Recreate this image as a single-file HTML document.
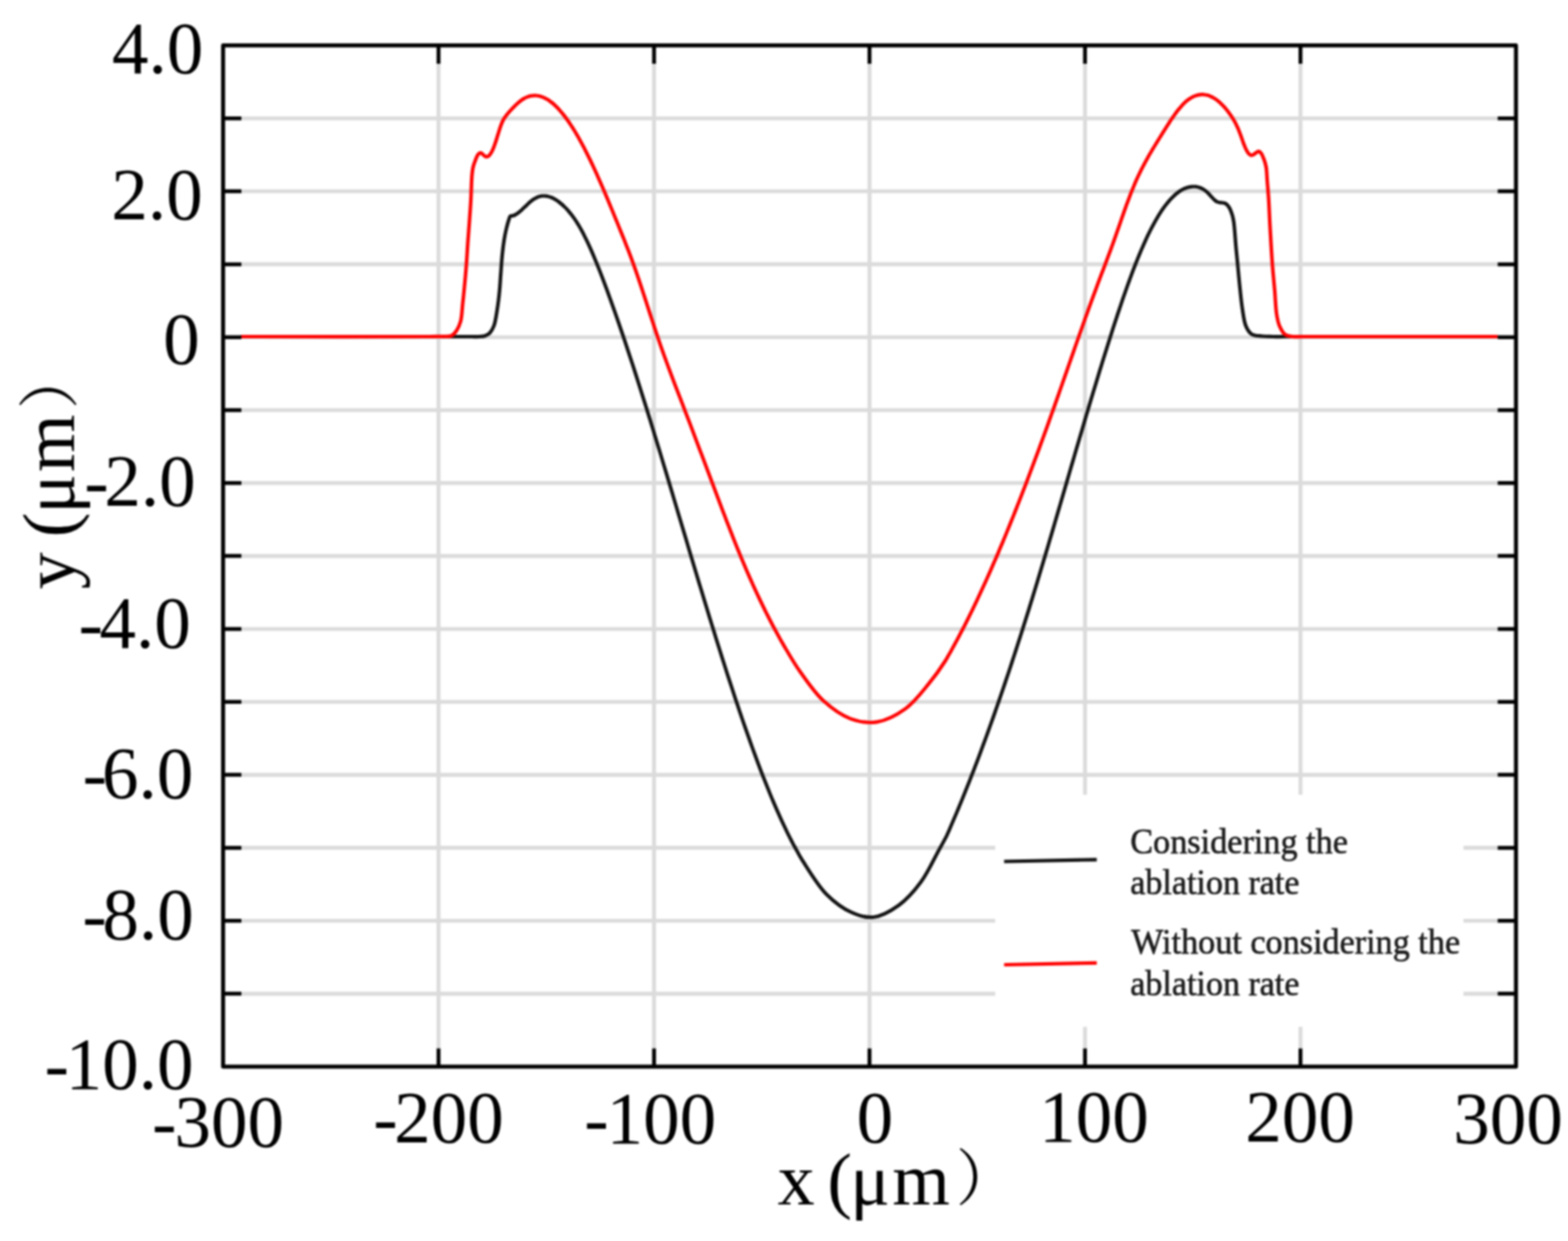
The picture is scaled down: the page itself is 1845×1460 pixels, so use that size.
<!DOCTYPE html>
<html><head><meta charset="utf-8"><title>Ablation profile chart</title>
<style>
html,body{margin:0;padding:0;background:#fff;}
body{width:1845px;height:1460px;overflow:hidden;}
svg{display:block;filter:blur(1px);}
.t{font-family:"Liberation Serif","Noto Serif CJK SC",serif;fill:#000;}
.lg{font-family:"Liberation Serif",serif;fill:#1a1a1a;stroke:#1a1a1a;stroke-width:0.7px;}
.cj{font-family:"Noto Serif CJK SC",serif;fill:#000;}
</style></head><body>
<svg width="1845" height="1460" viewBox="0 0 1845 1460">
<rect width="1845" height="1460" fill="#fff"/>
<g stroke="#dbdbdb" stroke-width="4.6"><line x1="516.0" y1="53.4" x2="516.0" y2="1254.9"/><line x1="769.6" y1="53.4" x2="769.6" y2="1254.9"/><line x1="1023.1" y1="53.4" x2="1023.1" y2="1254.9"/><line x1="1276.7" y1="53.4" x2="1276.7" y2="1254.9"/><line x1="1530.2" y1="53.4" x2="1530.2" y2="1254.9"/><line x1="262.5" y1="139.2" x2="1783.8" y2="139.2"/><line x1="262.5" y1="225.0" x2="1783.8" y2="225.0"/><line x1="262.5" y1="310.9" x2="1783.8" y2="310.9"/><line x1="262.5" y1="396.7" x2="1783.8" y2="396.7"/><line x1="262.5" y1="482.5" x2="1783.8" y2="482.5"/><line x1="262.5" y1="568.3" x2="1783.8" y2="568.3"/><line x1="262.5" y1="654.1" x2="1783.8" y2="654.1"/><line x1="262.5" y1="740.0" x2="1783.8" y2="740.0"/><line x1="262.5" y1="825.8" x2="1783.8" y2="825.8"/><line x1="262.5" y1="911.6" x2="1783.8" y2="911.6"/><line x1="262.5" y1="997.4" x2="1783.8" y2="997.4"/><line x1="262.5" y1="1083.3" x2="1783.8" y2="1083.3"/><line x1="262.5" y1="1169.1" x2="1783.8" y2="1169.1"/></g>
<rect x="1171" y="935" width="551" height="273" fill="#fff"/>
<path fill="none" stroke="#111" stroke-width="4.2" stroke-linejoin="round" d="M283.6,396.0C289.1,396.0 291.3,396.0 300.0,396.0C333.2,396.0 508.0,396.0 540.0,396.0C548.0,396.0 550.6,396.0 555.0,396.0C558.4,396.0 561.2,396.2 564.0,396.0C566.5,395.8 568.8,395.8 570.9,395.0C573.0,394.2 574.9,393.2 576.5,391.5C578.4,389.5 579.8,386.9 581.1,383.6C583.0,378.7 583.9,371.1 585.0,364.4C586.2,357.2 587.1,349.3 587.8,341.8C588.5,334.5 588.8,327.2 589.4,320.0C589.9,312.9 590.4,305.3 591.1,298.7C591.7,292.8 592.4,287.3 593.2,282.2C593.9,277.8 594.7,273.8 595.6,269.9C596.5,266.2 597.5,262.1 598.5,259.2C599.2,257.2 599.5,255.1 600.6,254.3C601.4,253.7 602.6,254.1 603.6,253.8C604.6,253.5 605.6,253.0 606.6,252.5C607.6,251.9 608.6,251.2 609.6,250.5C610.6,249.8 611.6,248.9 612.6,248.1C613.6,247.2 614.6,246.2 615.6,245.3C616.6,244.3 617.6,243.4 618.6,242.4C619.6,241.4 620.6,240.4 621.6,239.5C622.6,238.6 623.6,237.7 624.6,236.8C625.6,236.0 626.6,235.2 627.6,234.5C628.6,233.9 629.6,233.3 630.6,232.8C631.6,232.3 632.6,231.8 633.6,231.5C634.6,231.2 635.6,230.9 636.6,230.7C637.6,230.6 638.6,230.5 639.6,230.5C640.6,230.5 641.6,230.5 642.6,230.6C643.6,230.8 644.6,231.0 645.6,231.3C646.6,231.5 647.6,231.9 648.6,232.3C649.6,232.7 650.6,233.2 651.6,233.7C652.6,234.2 653.6,234.8 654.6,235.4C655.6,236.1 656.6,236.8 657.6,237.5C658.6,238.3 659.6,239.1 660.6,240.0C661.6,240.8 662.6,241.7 663.6,242.7C664.6,243.6 665.6,244.6 666.6,245.7C667.6,246.8 668.6,247.9 669.6,249.1C670.6,250.3 671.6,251.5 672.6,252.8C673.6,254.1 674.6,255.5 675.6,256.9C676.6,258.3 677.6,259.8 678.6,261.4C679.6,263.0 680.6,264.6 681.6,266.3C682.6,268.0 683.6,269.8 684.6,271.6C685.6,273.5 686.6,275.4 687.6,277.4C688.6,279.3 689.6,281.4 690.6,283.4C691.6,285.6 692.6,287.7 693.6,289.9C694.6,292.1 695.6,294.3 696.6,296.6C697.6,298.9 698.6,301.3 699.6,303.7C700.6,306.1 701.6,308.5 702.6,311.0C703.6,313.5 704.6,316.0 705.6,318.5C706.6,321.1 707.6,323.7 708.6,326.3C709.6,328.9 710.6,331.6 711.6,334.2C712.6,336.9 713.6,339.6 714.6,342.3C715.6,345.1 716.6,347.8 717.6,350.6C718.6,353.4 719.6,356.2 720.6,359.0C721.6,361.8 722.6,364.6 723.6,367.4C724.6,370.3 725.6,373.2 726.6,376.0C727.6,378.9 728.6,381.8 729.6,384.7C730.6,387.7 731.6,390.6 732.6,393.5C733.6,396.5 734.6,399.5 735.6,402.4C736.6,405.4 737.6,408.4 738.6,411.5C739.6,414.5 740.6,417.5 741.6,420.6C742.6,423.6 743.6,426.7 744.6,429.7C745.6,432.8 746.6,435.9 747.6,439.0C748.6,442.1 749.6,445.2 750.6,448.4C751.6,451.5 752.6,454.7 753.6,457.8C754.6,461.0 755.6,464.1 756.6,467.3C757.6,470.5 758.6,473.7 759.6,476.9C760.6,480.1 761.6,483.3 762.6,486.5C763.6,489.8 764.6,493.0 765.6,496.2C766.6,499.5 767.6,502.7 768.6,506.0C769.6,509.2 770.6,512.5 771.6,515.8C772.6,519.1 773.6,522.4 774.6,525.6C775.6,528.9 776.6,532.2 777.6,535.5C778.6,538.8 779.6,542.1 780.6,545.5C781.6,548.8 782.6,552.1 783.6,555.4C784.6,558.7 785.6,562.1 786.6,565.4C787.6,568.7 788.6,572.1 789.6,575.4C790.6,578.8 791.6,582.1 792.6,585.5C793.6,588.8 794.6,592.1 795.6,595.5C796.6,598.8 797.6,602.2 798.6,605.6C799.6,608.9 800.6,612.3 801.6,615.6C802.6,619.0 803.6,622.3 804.6,625.7C805.6,629.0 806.6,632.4 807.6,635.7C808.6,639.1 809.6,642.4 810.6,645.8C811.6,649.1 812.6,652.5 813.6,655.8C814.6,659.1 815.6,662.5 816.6,665.8C817.6,669.1 818.6,672.5 819.6,675.8C820.6,679.1 821.6,682.4 822.6,685.8C823.6,689.1 824.6,692.4 825.6,695.7C826.6,699.0 827.6,702.3 828.6,705.6C829.6,708.9 830.6,712.2 831.6,715.4C832.6,718.7 833.6,722.0 834.6,725.3C835.6,728.5 836.6,731.8 837.6,735.0C838.6,738.3 839.6,741.5 840.6,744.7C841.6,747.9 842.6,751.2 843.6,754.4C844.6,757.6 845.6,760.8 846.6,763.9C847.6,767.1 848.6,770.3 849.6,773.5C850.6,776.6 851.6,779.8 852.6,782.9C853.6,786.0 854.6,789.1 855.6,792.3C856.6,795.4 857.6,798.5 858.6,801.5C859.6,804.6 860.6,807.7 861.6,810.7C862.6,813.8 863.6,816.8 864.6,819.8C865.6,822.9 866.6,825.9 867.6,828.8C868.6,831.8 869.6,834.8 870.6,837.8C871.6,840.7 872.6,843.6 873.6,846.6C874.6,849.5 875.6,852.4 876.6,855.2C877.6,858.1 878.6,861.0 879.6,863.8C880.6,866.7 881.6,869.5 882.6,872.3C883.6,875.1 884.6,877.9 885.6,880.6C886.6,883.4 887.6,886.1 888.6,888.8C889.6,891.5 890.6,894.2 891.6,896.9C892.6,899.6 893.6,902.2 894.6,904.9C895.6,907.5 896.6,910.1 897.6,912.7C898.6,915.2 899.6,917.8 900.6,920.3C901.6,922.8 902.6,925.3 903.6,927.8C904.6,930.3 905.6,932.7 906.6,935.2C907.6,937.6 908.6,940.0 909.6,942.3C910.6,944.7 911.6,947.0 912.6,949.4C913.6,951.7 914.6,954.0 915.6,956.2C916.6,958.5 917.6,960.7 918.6,962.9C919.6,965.1 920.6,967.3 921.6,969.4C922.6,971.5 923.6,973.6 924.6,975.7C925.6,977.8 926.6,979.8 927.6,981.9C928.6,983.9 929.6,985.8 930.6,987.8C931.6,989.7 932.6,991.7 933.6,993.6C934.6,995.4 935.6,997.3 936.6,999.1C937.6,1000.9 938.6,1002.7 939.6,1004.4C940.6,1006.2 941.6,1008.0 942.6,1009.6C943.4,1011.0 943.7,1011.6 945.0,1013.5C949.1,1019.8 962.3,1041.9 972.6,1052.2C981.6,1061.2 992.1,1069.0 1002.0,1073.4C1010.4,1077.2 1018.9,1080.0 1027.6,1079.0C1037.3,1077.9 1048.2,1071.7 1057.3,1065.2C1067.1,1058.2 1076.0,1048.0 1083.7,1037.5C1091.9,1026.4 1099.1,1010.3 1104.7,1000.2C1108.5,993.4 1111.8,987.5 1114.0,983.1C1115.3,980.3 1116.0,978.5 1117.0,976.3C1118.0,974.0 1119.0,971.7 1120.0,969.3C1121.0,967.0 1122.0,964.7 1123.0,962.3C1124.0,960.0 1125.0,957.6 1126.0,955.2C1127.0,952.8 1128.0,950.4 1129.0,948.0C1130.0,945.6 1131.0,943.2 1132.0,940.7C1133.0,938.3 1134.0,935.8 1135.0,933.3C1136.0,930.8 1137.0,928.3 1138.0,925.8C1139.0,923.3 1140.0,920.8 1141.0,918.2C1142.0,915.7 1143.0,913.1 1144.0,910.5C1145.0,907.9 1146.0,905.4 1147.0,902.8C1148.0,900.1 1149.0,897.5 1150.0,894.9C1151.0,892.2 1152.0,889.6 1153.0,886.9C1154.0,884.2 1155.0,881.5 1156.0,878.8C1157.0,876.1 1158.0,873.4 1159.0,870.7C1160.0,868.0 1161.0,865.2 1162.0,862.5C1163.0,859.7 1164.0,856.9 1165.0,854.1C1166.0,851.3 1167.0,848.5 1168.0,845.7C1169.0,842.9 1170.0,840.0 1171.0,837.2C1172.0,834.3 1173.0,831.5 1174.0,828.6C1175.0,825.7 1176.0,822.8 1177.0,819.9C1178.0,817.0 1179.0,814.1 1180.0,811.1C1181.0,808.2 1182.0,805.2 1183.0,802.3C1184.0,799.3 1185.0,796.3 1186.0,793.3C1187.0,790.3 1188.0,787.3 1189.0,784.3C1190.0,781.3 1191.0,778.2 1192.0,775.2C1193.0,772.1 1194.0,769.1 1195.0,766.0C1196.0,762.9 1197.0,759.8 1198.0,756.7C1199.0,753.6 1200.0,750.5 1201.0,747.4C1202.0,744.2 1203.0,741.1 1204.0,737.9C1205.0,734.8 1206.0,731.6 1207.0,728.4C1208.0,725.2 1209.0,722.0 1210.0,718.8C1211.0,715.6 1212.0,712.4 1213.0,709.2C1214.0,705.9 1215.0,702.7 1216.0,699.4C1217.0,696.1 1218.0,692.9 1219.0,689.6C1220.0,686.3 1221.0,683.0 1222.0,679.7C1223.0,676.4 1224.0,673.0 1225.0,669.7C1226.0,666.4 1227.0,663.0 1228.0,659.7C1229.0,656.3 1230.0,653.0 1231.0,649.6C1232.0,646.2 1233.0,642.9 1234.0,639.5C1235.0,636.1 1236.0,632.7 1237.0,629.3C1238.0,625.9 1239.0,622.5 1240.0,619.1C1241.0,615.7 1242.0,612.3 1243.0,608.9C1244.0,605.5 1245.0,602.1 1246.0,598.6C1247.0,595.2 1248.0,591.8 1249.0,588.4C1250.0,584.9 1251.0,581.5 1252.0,578.1C1253.0,574.7 1254.0,571.2 1255.0,567.8C1256.0,564.4 1257.0,560.9 1258.0,557.5C1259.0,554.1 1260.0,550.7 1261.0,547.2C1262.0,543.8 1263.0,540.4 1264.0,537.0C1265.0,533.5 1266.0,530.1 1267.0,526.7C1268.0,523.3 1269.0,519.9 1270.0,516.5C1271.0,513.1 1272.0,509.7 1273.0,506.3C1274.0,502.9 1275.0,499.5 1276.0,496.1C1277.0,492.8 1278.0,489.4 1279.0,486.0C1280.0,482.6 1281.0,479.3 1282.0,475.9C1283.0,472.6 1284.0,469.3 1285.0,465.9C1286.0,462.6 1287.0,459.3 1288.0,456.0C1289.0,452.7 1290.0,449.4 1291.0,446.1C1292.0,442.8 1293.0,439.5 1294.0,436.2C1295.0,433.0 1296.0,429.7 1297.0,426.5C1298.0,423.3 1299.0,420.1 1300.0,416.8C1301.0,413.6 1302.0,410.5 1303.0,407.3C1304.0,404.1 1305.0,400.9 1306.0,397.8C1307.0,394.7 1308.0,391.5 1309.0,388.4C1310.0,385.3 1311.0,382.2 1312.0,379.2C1313.0,376.1 1314.0,373.1 1315.0,370.0C1316.0,367.0 1317.0,364.0 1318.0,361.1C1319.0,358.1 1320.0,355.2 1321.0,352.2C1322.0,349.3 1323.0,346.4 1324.0,343.6C1325.0,340.7 1326.0,337.9 1327.0,335.1C1328.0,332.4 1329.0,329.6 1330.0,326.9C1331.0,324.2 1332.0,321.5 1333.0,318.8C1334.0,316.2 1335.0,313.6 1336.0,311.1C1337.0,308.5 1338.0,306.0 1339.0,303.5C1340.0,301.1 1341.0,298.6 1342.0,296.2C1343.0,293.9 1344.0,291.6 1345.0,289.3C1346.0,287.0 1347.0,284.8 1348.0,282.6C1349.0,280.4 1350.0,278.3 1351.0,276.2C1352.0,274.1 1353.0,272.1 1354.0,270.1C1355.0,268.2 1356.0,266.3 1357.0,264.4C1358.0,262.6 1359.0,260.8 1360.0,259.0C1361.0,257.3 1362.0,255.6 1363.0,253.9C1364.0,252.3 1365.0,250.7 1366.0,249.2C1367.0,247.7 1368.0,246.2 1369.0,244.8C1370.0,243.4 1371.0,242.1 1372.0,240.8C1373.0,239.5 1374.0,238.3 1375.0,237.1C1376.0,235.9 1377.0,234.8 1378.0,233.7C1379.0,232.7 1380.0,231.7 1381.0,230.7C1382.0,229.8 1383.0,228.9 1384.0,228.0C1385.0,227.2 1386.0,226.4 1387.0,225.7C1388.0,225.0 1389.0,224.4 1390.0,223.8C1391.0,223.2 1392.0,222.7 1393.0,222.2C1394.0,221.7 1395.0,221.3 1396.0,221.0C1397.0,220.6 1398.0,220.3 1399.0,220.1C1400.0,219.9 1401.0,219.7 1402.0,219.6C1403.0,219.5 1404.0,219.5 1405.0,219.5C1406.0,219.5 1407.0,219.6 1408.0,219.7C1409.0,219.9 1410.0,220.1 1411.0,220.4C1412.0,220.7 1413.0,221.1 1414.0,221.6C1415.0,222.1 1416.0,222.7 1417.0,223.4C1418.0,224.1 1419.0,224.9 1420.0,225.8C1421.0,226.7 1422.0,227.8 1423.0,228.8C1424.0,229.9 1425.0,231.0 1426.0,232.1C1427.0,233.1 1428.0,234.2 1429.0,235.1C1430.0,236.0 1431.0,236.8 1432.0,237.4C1433.0,237.8 1434.0,238.1 1435.0,238.3C1436.0,238.5 1437.0,238.4 1438.0,238.5C1439.0,238.6 1440.0,238.7 1441.0,239.0C1442.0,239.4 1443.1,240.0 1444.0,240.9C1445.1,242.0 1446.1,243.5 1447.0,245.3C1448.1,247.4 1449.6,251.9 1450.0,253.1C1450.1,253.4 1450.1,253.4 1450.2,253.8C1450.5,255.0 1451.4,258.8 1451.8,261.7C1452.3,265.3 1452.6,269.6 1453.0,274.0C1453.4,279.1 1453.8,285.0 1454.3,290.5C1454.8,296.0 1455.3,300.7 1455.9,306.9C1456.7,315.2 1457.7,326.4 1458.7,336.1C1459.7,345.6 1460.6,355.9 1462.0,364.4C1463.1,371.4 1463.8,378.5 1466.0,383.6C1467.7,387.6 1469.7,391.2 1472.8,393.2C1476.0,395.3 1481.1,395.0 1485.2,395.5C1489.2,395.9 1492.8,395.9 1497.0,396.0C1501.7,396.1 1504.0,396.0 1512.0,396.0C1543.4,396.0 1711.7,396.0 1745.0,396.0C1754.1,396.0 1756.5,396.0 1762.3,396.0"/>
<path fill="none" stroke="#f00" stroke-width="4.2" stroke-linejoin="round" d="M283.6,396.0C289.1,396.0 291.5,396.0 300.0,396.0C330.1,396.0 475.9,396.2 505.0,396.0C512.9,395.9 515.4,396.0 520.0,395.8C524.0,395.6 528.4,396.3 531.3,395.0C533.8,393.9 535.3,391.7 537.0,389.3C539.0,386.3 540.8,382.4 542.0,378.0C543.5,372.5 543.6,365.4 544.3,358.7C545.1,351.5 545.9,343.9 546.6,336.1C547.4,327.9 548.2,319.2 548.8,310.7C549.5,302.2 549.9,293.4 550.5,285.2C551.1,277.4 551.6,270.4 552.2,262.6C552.8,254.1 553.5,245.2 554.0,236.0C554.6,226.2 554.7,212.8 555.4,205.6C555.8,201.7 556.0,199.4 556.7,196.5C557.4,193.5 558.6,190.4 559.7,187.7C560.6,185.4 561.4,182.7 562.7,181.4C563.6,180.5 564.7,179.8 565.7,179.9C566.7,180.0 567.7,181.4 568.7,182.2C569.7,182.9 570.6,184.1 571.7,184.4C572.7,184.6 573.8,184.3 574.7,183.7C575.8,183.0 576.8,181.5 577.7,180.1C578.8,178.4 579.8,176.2 580.7,173.9C581.8,171.4 582.7,168.4 583.7,165.5C584.7,162.4 585.7,159.0 586.7,155.8C587.7,152.7 588.6,149.5 589.7,146.7C590.6,144.3 591.6,142.0 592.7,140.1C593.6,138.4 594.7,137.1 595.7,135.8C596.7,134.5 597.7,133.4 598.7,132.2C599.7,131.1 600.7,130.0 601.7,128.9C602.7,127.8 603.7,126.7 604.7,125.7C605.7,124.7 606.7,123.7 607.7,122.8C608.7,121.8 609.7,121.0 610.7,120.1C611.7,119.3 612.7,118.5 613.7,117.8C614.7,117.1 615.7,116.5 616.7,115.9C617.7,115.3 618.7,114.8 619.7,114.4C620.7,114.0 621.7,113.6 622.7,113.3C623.7,113.0 624.7,112.8 625.7,112.7C626.7,112.5 627.7,112.4 628.7,112.4C629.7,112.4 630.7,112.4 631.7,112.5C632.7,112.6 633.7,112.8 634.7,113.0C635.7,113.3 636.7,113.6 637.7,113.9C638.7,114.3 639.7,114.7 640.7,115.2C641.7,115.6 642.7,116.2 643.7,116.8C644.7,117.4 645.7,118.0 646.7,118.7C647.7,119.4 648.7,120.2 649.7,121.0C650.7,121.8 651.7,122.7 652.7,123.6C653.7,124.5 654.7,125.5 655.7,126.5C656.7,127.6 657.7,128.7 658.7,129.8C659.7,130.9 660.7,132.1 661.7,133.3C662.7,134.5 663.7,135.8 664.7,137.1C665.7,138.4 666.7,139.8 667.7,141.2C668.7,142.6 669.7,144.1 670.7,145.6C671.7,147.1 672.7,148.6 673.7,150.2C674.7,151.8 675.7,153.4 676.7,155.0C677.7,156.7 678.7,158.4 679.7,160.1C680.7,161.9 681.7,163.7 682.7,165.5C683.7,167.3 684.7,169.1 685.7,171.0C686.7,172.9 687.7,174.8 688.7,176.7C689.7,178.7 690.7,180.7 691.7,182.7C692.7,184.7 693.7,186.8 694.7,188.8C695.7,190.9 696.7,193.0 697.7,195.2C698.7,197.3 699.7,199.5 700.7,201.6C701.7,203.8 702.7,206.1 703.7,208.3C704.7,210.5 705.7,212.8 706.7,215.1C707.7,217.4 708.7,219.7 709.7,222.0C710.7,224.4 711.7,226.7 712.7,229.1C713.7,231.5 714.7,233.8 715.7,236.2C716.7,238.6 717.7,241.1 718.7,243.5C719.7,245.9 720.7,248.3 721.7,250.8C722.7,253.2 723.7,255.7 724.7,258.1C725.7,260.6 726.7,263.0 727.7,265.5C728.7,268.0 729.7,270.4 730.7,272.9C731.7,275.4 732.7,277.8 733.7,280.3C734.7,282.8 735.7,285.3 736.7,287.9C737.7,290.4 738.7,293.0 739.7,295.6C740.7,298.2 741.7,300.8 742.7,303.5C743.7,306.2 744.7,308.9 745.7,311.7C746.7,314.5 747.7,317.4 748.7,320.2C749.7,323.1 750.7,326.1 751.7,329.0C752.7,332.0 753.7,335.0 754.7,338.0C755.7,341.0 756.7,344.1 757.7,347.1C758.7,350.2 759.7,353.3 760.7,356.4C761.7,359.4 762.7,362.5 763.7,365.6C764.7,368.7 765.7,371.8 766.7,374.9C767.7,377.9 768.7,381.0 769.7,384.0C770.7,387.0 771.7,390.1 772.7,393.0C773.7,396.0 774.7,398.9 775.7,401.9C776.7,404.7 777.7,407.6 778.7,410.5C779.7,413.3 780.7,416.1 781.7,418.9C782.7,421.6 783.7,424.4 784.7,427.1C785.7,429.8 786.7,432.5 787.7,435.2C788.7,437.9 789.7,440.6 790.7,443.2C791.7,445.9 792.7,448.5 793.7,451.2C794.7,453.8 795.7,456.4 796.7,459.0C797.7,461.6 798.7,464.2 799.7,466.8C800.7,469.4 801.7,472.0 802.7,474.6C803.7,477.2 804.7,479.8 805.7,482.4C806.7,485.0 807.7,487.6 808.7,490.3C809.7,492.9 810.7,495.5 811.7,498.1C812.7,500.8 813.7,503.4 814.7,506.0C815.7,508.7 816.7,511.3 817.7,514.0C818.7,516.6 819.7,519.3 820.7,521.9C821.7,524.6 822.7,527.2 823.7,529.9C824.7,532.5 825.7,535.2 826.7,537.8C827.7,540.5 828.7,543.2 829.7,545.8C830.7,548.5 831.7,551.2 832.7,553.8C833.7,556.5 834.7,559.2 835.7,561.8C836.7,564.5 837.7,567.2 838.7,569.8C839.7,572.5 840.7,575.2 841.7,577.8C842.7,580.5 843.7,583.2 844.7,585.8C845.7,588.5 846.7,591.1 847.7,593.8C848.7,596.4 849.7,599.0 850.7,601.7C851.7,604.3 852.7,606.9 853.7,609.5C854.7,612.1 855.7,614.7 856.7,617.3C857.7,619.9 858.7,622.5 859.7,625.0C860.7,627.6 861.7,630.1 862.7,632.7C863.7,635.2 864.7,637.7 865.7,640.2C866.7,642.7 867.7,645.2 868.7,647.6C869.7,650.1 870.7,652.5 871.7,655.0C872.7,657.4 873.7,659.8 874.7,662.1C875.7,664.5 876.7,666.8 877.7,669.2C878.7,671.5 879.7,673.8 880.7,676.1C881.7,678.4 882.7,680.7 883.7,682.9C884.7,685.1 885.7,687.4 886.7,689.6C887.7,691.8 888.7,694.0 889.7,696.1C890.7,698.3 891.7,700.4 892.7,702.5C893.7,704.7 894.7,706.8 895.7,708.8C896.7,710.9 897.7,713.0 898.7,715.0C899.7,717.1 900.7,719.1 901.7,721.1C902.7,723.1 903.7,725.0 904.7,727.0C905.7,729.0 906.7,730.9 907.7,732.8C908.7,734.7 909.7,736.6 910.7,738.5C911.7,740.4 912.7,742.2 913.7,744.1C914.7,745.9 915.7,747.7 916.7,749.5C917.7,751.3 918.7,753.1 919.7,754.9C920.7,756.6 921.8,758.5 922.7,760.1C923.5,761.5 923.9,762.1 925.0,764.0C928.0,768.9 935.0,781.2 941.5,790.3C949.2,801.1 958.4,814.9 968.7,824.3C978.4,833.1 989.8,841.5 1000.9,845.6C1010.9,849.3 1021.7,851.0 1032.0,849.4C1043.2,847.6 1055.3,841.1 1065.3,833.9C1075.8,826.3 1084.9,814.0 1093.0,804.2C1100.2,795.4 1108.5,783.5 1112.0,778.0C1113.5,775.7 1114.0,774.6 1115.0,772.9C1116.0,771.2 1117.0,769.4 1118.0,767.7C1119.0,765.9 1120.0,764.1 1121.0,762.3C1122.0,760.5 1123.0,758.7 1124.0,756.8C1125.0,755.0 1126.0,753.1 1127.0,751.3C1128.0,749.4 1129.0,747.5 1130.0,745.6C1131.0,743.7 1132.0,741.8 1133.0,739.8C1134.0,737.9 1135.0,735.9 1136.0,734.0C1137.0,732.0 1138.0,730.0 1139.0,728.0C1140.0,726.0 1141.0,724.0 1142.0,721.9C1143.0,719.9 1144.0,717.8 1145.0,715.8C1146.0,713.7 1147.0,711.6 1148.0,709.5C1149.0,707.4 1150.0,705.3 1151.0,703.2C1152.0,701.0 1153.0,698.9 1154.0,696.7C1155.0,694.6 1156.0,692.4 1157.0,690.2C1158.0,688.0 1159.0,685.8 1160.0,683.6C1161.0,681.4 1162.0,679.1 1163.0,676.9C1164.0,674.7 1165.0,672.4 1166.0,670.1C1167.0,667.8 1168.0,665.5 1169.0,663.2C1170.0,660.9 1171.0,658.6 1172.0,656.3C1173.0,654.0 1174.0,651.6 1175.0,649.3C1176.0,646.9 1177.0,644.5 1178.0,642.2C1179.0,639.8 1180.0,637.4 1181.0,635.0C1182.0,632.5 1183.0,630.1 1184.0,627.7C1185.0,625.3 1186.0,622.8 1187.0,620.4C1188.0,617.9 1189.0,615.4 1190.0,612.9C1191.0,610.5 1192.0,608.0 1193.0,605.5C1194.0,602.9 1195.0,600.4 1196.0,597.9C1197.0,595.4 1198.0,592.8 1199.0,590.3C1200.0,587.7 1201.0,585.1 1202.0,582.6C1203.0,580.0 1204.0,577.4 1205.0,574.8C1206.0,572.2 1207.0,569.6 1208.0,567.0C1209.0,564.3 1210.0,561.7 1211.0,559.1C1212.0,556.4 1213.0,553.8 1214.0,551.1C1215.0,548.5 1216.0,545.8 1217.0,543.1C1218.0,540.4 1219.0,537.7 1220.0,535.0C1221.0,532.3 1222.0,529.6 1223.0,526.9C1224.0,524.2 1225.0,521.4 1226.0,518.7C1227.0,516.0 1228.0,513.2 1229.0,510.5C1230.0,507.7 1231.0,504.9 1232.0,502.2C1233.0,499.4 1234.0,496.6 1235.0,493.8C1236.0,491.0 1237.0,488.2 1238.0,485.4C1239.0,482.6 1240.0,479.8 1241.0,477.0C1242.0,474.1 1243.0,471.3 1244.0,468.5C1245.0,465.6 1246.0,462.8 1247.0,459.9C1248.0,457.1 1249.0,454.2 1250.0,451.4C1251.0,448.5 1252.0,445.6 1253.0,442.8C1254.0,439.9 1255.0,437.1 1256.0,434.2C1257.0,431.3 1258.0,428.5 1259.0,425.6C1260.0,422.7 1261.0,419.9 1262.0,417.0C1263.0,414.1 1264.0,411.3 1265.0,408.4C1266.0,405.6 1267.0,402.7 1268.0,399.9C1269.0,397.0 1270.0,394.2 1271.0,391.4C1272.0,388.5 1273.0,385.7 1274.0,382.9C1275.0,380.1 1276.0,377.3 1277.0,374.4C1278.0,371.6 1279.0,368.9 1280.0,366.1C1281.0,363.3 1282.0,360.5 1283.0,357.8C1284.0,355.0 1285.0,352.2 1286.0,349.5C1287.0,346.8 1288.0,344.1 1289.0,341.4C1290.0,338.7 1291.0,336.0 1292.0,333.3C1293.0,330.6 1294.0,328.0 1295.0,325.3C1296.0,322.7 1297.0,320.0 1298.0,317.4C1299.0,314.8 1300.0,312.1 1301.0,309.5C1302.0,306.9 1303.0,304.2 1304.0,301.6C1305.0,298.9 1306.0,296.2 1307.0,293.5C1308.0,290.8 1309.0,288.0 1310.0,285.3C1311.0,282.5 1312.0,279.7 1313.0,276.8C1314.0,274.0 1315.0,271.1 1316.0,268.2C1317.0,265.4 1318.0,262.5 1319.0,259.6C1320.0,256.7 1321.0,253.8 1322.0,251.0C1323.0,248.2 1324.0,245.3 1325.0,242.5C1326.0,239.8 1327.0,237.0 1328.0,234.4C1329.0,231.7 1330.0,229.1 1331.0,226.5C1332.0,224.0 1333.0,221.6 1334.0,219.2C1335.0,216.8 1336.0,214.5 1337.0,212.2C1338.0,210.0 1339.0,207.8 1340.0,205.7C1341.0,203.6 1342.0,201.6 1343.0,199.5C1344.0,197.6 1345.0,195.6 1346.0,193.7C1347.0,191.8 1348.0,190.0 1349.0,188.2C1350.0,186.4 1351.0,184.6 1352.0,182.8C1353.0,181.1 1354.0,179.4 1355.0,177.7C1356.0,176.0 1357.0,174.4 1358.0,172.7C1359.0,171.1 1360.0,169.4 1361.0,167.8C1362.0,166.2 1363.0,164.6 1364.0,163.0C1365.0,161.4 1366.0,159.8 1367.0,158.2C1368.0,156.6 1369.0,155.0 1370.0,153.4C1371.0,151.8 1372.0,150.2 1373.0,148.6C1374.0,147.1 1375.0,145.5 1376.0,144.0C1377.0,142.5 1378.0,140.9 1379.0,139.4C1380.0,138.0 1381.0,136.5 1382.0,135.1C1383.0,133.7 1384.0,132.4 1385.0,131.0C1386.0,129.8 1387.0,128.5 1388.0,127.3C1389.0,126.1 1390.0,124.9 1391.0,123.8C1392.0,122.8 1393.0,121.8 1394.0,120.8C1395.0,119.9 1396.0,119.0 1397.0,118.2C1398.0,117.4 1399.0,116.7 1400.0,116.0C1401.0,115.4 1402.0,114.8 1403.0,114.2C1404.0,113.7 1405.0,113.3 1406.0,112.9C1407.0,112.5 1408.0,112.2 1409.0,111.9C1410.0,111.7 1411.0,111.5 1412.0,111.4C1413.0,111.3 1414.0,111.2 1415.0,111.2C1416.0,111.2 1417.0,111.3 1418.0,111.5C1419.0,111.6 1420.0,111.8 1421.0,112.1C1422.0,112.4 1423.0,112.7 1424.0,113.2C1425.0,113.6 1426.0,114.1 1427.0,114.6C1428.0,115.1 1429.0,115.7 1430.0,116.4C1431.0,117.1 1432.0,117.8 1433.0,118.6C1434.0,119.4 1435.0,120.3 1436.0,121.2C1437.0,122.2 1438.0,123.2 1439.0,124.2C1440.0,125.3 1441.0,126.4 1442.0,127.5C1443.0,128.7 1444.0,130.0 1445.0,131.3C1446.0,132.6 1447.0,134.0 1448.0,135.4C1449.0,136.9 1450.0,138.4 1451.0,140.0C1452.0,141.7 1453.0,143.5 1454.0,145.3C1455.0,147.4 1456.0,149.5 1457.0,151.7C1458.0,154.2 1459.0,156.8 1460.0,159.5C1461.0,162.2 1462.0,165.3 1463.0,168.1C1464.0,170.6 1464.9,173.3 1466.0,175.4C1466.9,177.3 1467.9,179.1 1469.0,180.4C1469.9,181.3 1470.9,182.3 1472.0,182.6C1473.0,182.8 1474.0,182.4 1475.0,181.9C1476.1,181.4 1477.0,180.2 1478.0,179.6C1479.0,179.0 1480.0,178.1 1481.0,178.2C1482.0,178.3 1483.1,179.3 1484.0,180.4C1485.2,181.8 1486.1,184.4 1487.0,186.8C1488.1,189.6 1489.1,192.9 1489.8,196.5C1490.6,200.9 1490.6,205.9 1491.0,211.4C1491.5,218.3 1492.3,226.4 1492.8,234.7C1493.4,244.1 1493.7,253.9 1494.3,265.0C1495.1,278.7 1496.1,296.9 1497.1,310.7C1498.0,322.1 1499.0,331.7 1499.9,341.8C1500.7,351.4 1500.9,362.3 1502.2,370.0C1503.1,375.4 1503.8,379.5 1505.6,383.6C1507.3,387.4 1509.5,391.8 1512.4,393.8C1514.9,395.6 1518.1,395.6 1521.4,396.0C1525.2,396.5 1529.5,396.0 1534.0,396.0C1539.0,396.0 1541.7,396.0 1550.0,396.0C1578.9,396.0 1715.2,396.0 1745.0,396.0C1753.9,396.0 1756.5,396.0 1762.3,396.0"/>
<path d="M516.0 53.4V74.9M516.0 1254.9V1233.4M769.6 53.4V74.9M769.6 1254.9V1233.4M1023.1 53.4V74.9M1023.1 1254.9V1233.4M1276.7 53.4V74.9M1276.7 1254.9V1233.4M1530.2 53.4V74.9M1530.2 1254.9V1233.4M262.5 139.2H284.0M1783.8 139.2H1762.3M262.5 225.0H284.0M1783.8 225.0H1762.3M262.5 310.9H284.0M1783.8 310.9H1762.3M262.5 396.7H284.0M1783.8 396.7H1762.3M262.5 482.5H284.0M1783.8 482.5H1762.3M262.5 568.3H284.0M1783.8 568.3H1762.3M262.5 654.1H284.0M1783.8 654.1H1762.3M262.5 740.0H284.0M1783.8 740.0H1762.3M262.5 825.8H284.0M1783.8 825.8H1762.3M262.5 911.6H284.0M1783.8 911.6H1762.3M262.5 997.4H284.0M1783.8 997.4H1762.3M262.5 1083.3H284.0M1783.8 1083.3H1762.3M262.5 1169.1H284.0M1783.8 1169.1H1762.3" stroke="#000" stroke-width="4.5" fill="none"/>
<rect x="262.5" y="53.4" width="1521.3" height="1201.5" fill="none" stroke="#000" stroke-width="4.7" stroke-linejoin="round"/>
<line x1="1181.5" y1="1013.5" x2="1290.5" y2="1011.3" stroke="#111" stroke-width="4.2"/>
<line x1="1181.5" y1="1135" x2="1290.5" y2="1132.8" stroke="#f00" stroke-width="4.2"/>
<text class="t" x="131.7" y="85.8" font-size="86">4.0</text>
<text class="t" x="131.0" y="257.5" font-size="86">2.0</text>
<text class="t" x="192.0" y="428.3" font-size="86">0</text>
<text class="t" x="99.2" y="594.5" font-size="86">-<tspan dx="-5.0">2.0</tspan></text>
<text class="t" x="92.6" y="761.9" font-size="86">-<tspan dx="-4.2">4.0</tspan></text>
<text class="t" x="97.3" y="938.5" font-size="86">-<tspan dx="-5.9">6.0</tspan></text>
<text class="t" x="97.1" y="1104.8" font-size="86">-<tspan dx="-5.2">8.0</tspan></text>
<text class="t" x="52.5" y="1281.4" font-size="86">-<tspan dx="-3.9">10.0</tspan></text>
<text class="t" x="179.0" y="1349.0" font-size="86">-<tspan dx="-2.3">300</tspan></text>
<text class="t" x="439.3" y="1344.0" font-size="86">-<tspan dx="-4.1">200</tspan></text>
<text class="t" x="687.4" y="1345.0" font-size="86">-<tspan dx="-2.4">100</tspan></text>
<text class="t" x="1008.0" y="1344.0" font-size="86">0</text>
<text class="t" x="1222.7" y="1343.1" font-size="86">100</text>
<text class="t" x="1465.2" y="1343.1" font-size="86">200</text>
<text class="t" x="1710.0" y="1345.2" font-size="86">300</text>
<text class="t" y="1417" font-size="87"><tspan x="915">x</tspan><tspan x="973.6">(</tspan><tspan x="1000.5">μ</tspan><tspan x="1050">m</tspan></text>
<text class="cj" x="1124.8" y="1410.6" font-size="72">）</text>
<g transform="translate(87,693.3) rotate(-90)"><text class="t" y="0" font-size="87"><tspan x="0">y</tspan><tspan x="61.3">(</tspan><tspan x="89.1">μ</tspan><tspan x="138.1">m</tspan></text><text class="cj" x="212" y="-4.5" font-size="72">）</text></g>
<text class="lg" font-size="43" x="1330" y="1004" textLength="256" lengthAdjust="spacingAndGlyphs">Considering the</text>
<text class="lg" font-size="43" x="1330" y="1052" textLength="199" lengthAdjust="spacingAndGlyphs">ablation rate</text>
<text class="lg" font-size="43" x="1331" y="1122" textLength="387" lengthAdjust="spacingAndGlyphs">Without considering the</text>
<text class="lg" font-size="43" x="1330" y="1170.5" textLength="199" lengthAdjust="spacingAndGlyphs">ablation rate</text>
</svg>
</body></html>
